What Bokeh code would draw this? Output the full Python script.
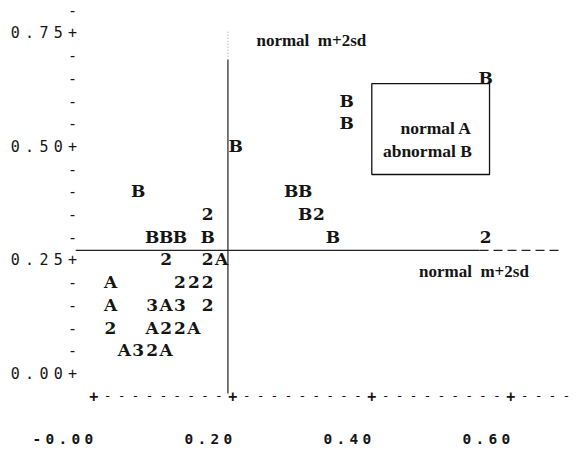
from bokeh.plotting import figure
from bokeh.models import ColumnDataSource, BoxAnnotation, Range1d
from bokeh.embed import file_html
from bokeh.resources import INLINE
from bokeh.core.properties import value
import numpy as np

# ---- data: each printed symbol of the line-printer plot ----
# A = normal, B = abnormal, 2/3 = number of coinciding observations
pt_x = [0.564,
        0.364,
        0.364,
        0.204,
        0.064, 0.284, 0.304,
        0.164, 0.304, 0.324,
        0.084, 0.104, 0.124, 0.164, 0.344, 0.564,
        0.104, 0.164, 0.184,
        0.024, 0.124, 0.144, 0.164,
        0.024, 0.084, 0.104, 0.124, 0.164,
        0.024, 0.084, 0.104, 0.124, 0.144,
        0.044, 0.064, 0.084, 0.104]
pt_y = [0.65,
        0.60,
        0.55,
        0.50,
        0.40, 0.40, 0.40,
        0.35, 0.35, 0.35,
        0.30, 0.30, 0.30, 0.30, 0.30, 0.30,
        0.25, 0.25, 0.25,
        0.20, 0.20, 0.20, 0.20,
        0.15, 0.15, 0.15, 0.15, 0.15,
        0.10, 0.10, 0.10, 0.10, 0.10,
        0.05, 0.05, 0.05, 0.05]
pt_label = ["B",
            "B",
            "B",
            "B",
            "B", "B", "B",
            "2", "B", "2",
            "B", "B", "B", "B", "B", "2",
            "2", "2", "A",
            "A", "2", "2", "2",
            "A", "3", "A", "3", "2",
            "2", "A", "2", "2", "A",
            "A", "3", "2", "A"]

y_ticks = [0.00, 0.25, 0.50, 0.75]
y_tick_labels = ["0.00", "0.25", "0.50", "0.75"]
y_minor = [0.05, 0.10, 0.15, 0.20, 0.30, 0.35, 0.40, 0.45,
           0.55, 0.60, 0.65, 0.70, 0.80]
x_ticks = [0.0, 0.2, 0.4, 0.6]
x_tick_labels = ["-0.00", "0.20", "0.40", "0.60"]

x_threshold = 0.193   # normal m+2sd (x)
y_threshold = 0.27    # normal m+2sd (y)

legend_lines = ["normal A", "abnormal B"]
threshold_label = "normal\u00a0\u00a0m+2sd"

# ---- figure ----
W, H = 571, 448
x0 = -0.13424
ytop = 0.82048
p = figure(width=W, height=H,
           x_range=Range1d(x0, x0 + W / 695.0), y_range=Range1d(ytop - H / 454.0, ytop),
           output_backend="svg", toolbar_location=None,
           x_axis_location=None, y_axis_location=None, min_border=0)
p.grid.visible = False
p.outline_line_color = None
p.background_fill_color = "white"

ink = "#151515"
axis_row = -0.05      # printed x-axis row
axis_col = -0.0306    # printed y-axis column

# printed y axis
p.text(x=[axis_col] * len(y_ticks), y=y_ticks, text=["+"] * len(y_ticks),
       text_font=value("DejaVu Sans Mono"), text_font_size="15px",
       text_align="center", text_baseline="middle", text_color=ink)
p.text(x=[axis_col] * len(y_minor), y=y_minor, text=["-"] * len(y_minor),
       text_font=value("DejaVu Sans Mono"), text_font_size="15px",
       text_align="center", text_baseline="middle", text_color=ink)
cx, cy, ct = [], [], []
for t, lab in zip(y_ticks, y_tick_labels):
    n = len(lab)
    for i, ch in enumerate(lab):
        cx.append(axis_col - 0.0206 * (n - i))
        cy.append(t)
        ct.append(ch)
p.text(x=cx, y=cy, text=ct, text_font=value("DejaVu Sans Mono"),
       text_font_size="15px", text_align="center", text_baseline="middle",
       text_color=ink)

# printed x axis
dash_x = [round(v, 3) for v in np.arange(0.02, 0.70, 0.02)
          if min(abs(v - t) for t in x_ticks) > 0.005]
p.text(x=dash_x, y=[axis_row] * len(dash_x), text=["-"] * len(dash_x),
       text_font=value("DejaVu Sans Mono"), text_font_size="13px",
       text_align="center", text_baseline="middle", text_color=ink)
p.text(x=x_ticks, y=[axis_row] * len(x_ticks), text=["+"] * len(x_ticks),
       text_font=value("DejaVu Sans Mono"), text_font_size="15px",
       text_font_style="bold",
       text_align="center", text_baseline="middle", text_color=ink)
cx, cy, ct = [], [], []
for t, lab in zip(x_ticks, x_tick_labels):
    n = len(lab)
    for i, ch in enumerate(lab):
        cx.append(t - 0.007 - 0.0187 * (n - 1 - i))
        cy.append(-0.145)
        ct.append(ch)
p.text(x=cx, y=cy, text=ct, text_font=value("DejaVu Sans Mono"),
       text_font_size="14.5px", text_font_style="bold",
       text_align="center", text_baseline="middle", text_color=ink)

# threshold lines
p.line(x=[x_threshold, x_threshold], y=[-0.045, 0.69], line_color="#222",
       line_width=1.2)
p.line(x=[x_threshold, x_threshold], y=[0.69, 0.755], line_color="#999",
       line_width=1, line_dash="1 2")
p.line(x=[-0.026, 0.555], y=[y_threshold, y_threshold], line_color="#222",
       line_width=1.2)
p.line(x=[0.555, 0.67], y=[y_threshold, y_threshold], line_color="#222",
       line_width=1.2, line_dash="9 5")

p.text(x=[0.234], y=[0.732], text=[threshold_label],
       text_font=value("Liberation Serif"), text_font_size="17px",
       text_font_style="bold", text_align="left", text_baseline="middle",
       text_color=ink)
p.text(x=[0.468], y=[0.224], text=[threshold_label],
       text_font=value("Liberation Serif"), text_font_size="17px",
       text_font_style="bold", text_align="left", text_baseline="middle",
       text_color=ink)

# data symbols
src = ColumnDataSource(dict(x=pt_x, y=pt_y, label=pt_label))
p.text(x="x", y="y", text="label", source=src,
       text_font=value("DejaVu Serif"), text_font_size="17px",
       text_font_style="bold", text_align="center", text_baseline="middle",
       text_color=ink)

# legend box
box = BoxAnnotation(left=0.400, right=0.5694, top=0.6374, bottom=0.4372,
                    fill_color=None, fill_alpha=0, line_color="#111",
                    line_alpha=1, line_width=1.3)
p.add_layout(box)
p.text(x=[0.544, 0.544], y=[0.5407, 0.488], text=legend_lines,
       text_font=value("Liberation Serif"), text_font_size="17.5px",
       text_font_style="bold", text_align="right", text_baseline="middle",
       text_color=ink)

open("out.html", "w").write(file_html(p, INLINE))
